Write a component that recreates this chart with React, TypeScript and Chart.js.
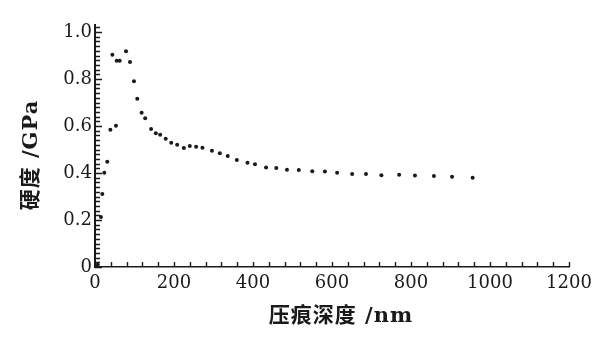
import React, { useEffect, useRef } from "react";
import { Chart, registerables } from "chart.js";

Chart.register(...registerables);

const depthNm = [7, 15, 18.5, 23.5, 31, 39, 44, 53, 55, 62.5, 78.5, 88.6, 98.7, 107, 118, 127, 142, 154, 165, 179, 193, 208, 225, 240, 256, 272, 296, 316, 336, 359, 386, 405, 433, 459, 486, 516, 550, 582, 613, 651, 686, 725, 770, 810, 858, 904, 956];
const hardnessGPa = [0.01, 0.213, 0.311, 0.401, 0.448, 0.584, 0.903, 0.601, 0.878, 0.878, 0.918, 0.872, 0.791, 0.716, 0.657, 0.633, 0.587, 0.569, 0.563, 0.546, 0.529, 0.52, 0.507, 0.515, 0.512, 0.508, 0.495, 0.484, 0.472, 0.455, 0.444, 0.437, 0.424, 0.421, 0.414, 0.413, 0.407, 0.406, 0.401, 0.396, 0.396, 0.39, 0.393, 0.389, 0.387, 0.384, 0.38];

const xTicks = [0, 200, 400, 600, 800, 1000, 1200];
const yTicks = [0, 0.2, 0.4, 0.6, 0.8, 1.0];
const xTitle = "压痕深度 /nm";
const yTitle = "硬度 /GPa";

const INK = "#1a1a1a";

const minorTicks = {
  id: "minorTicks",
  afterDraw(chart: any) {
    const { ctx, chartArea, scales } = chart;
    const xs = scales.x;
    const ys = scales.y;
    ctx.save();
    ctx.strokeStyle = INK;
    ctx.lineWidth = 1.4;
    ctx.beginPath();
    for (let i = 0; i <= 51; i++) {
      const v = i * 0.02;
      const py = Math.round(ys.getPixelForValue(v)) + 0.5;
      const len = i % 10 === 0 ? 7 : 5;
      ctx.moveTo(chartArea.left, py);
      ctx.lineTo(chartArea.left + len, py);
    }
    for (let i = 0; i <= 30; i++) {
      const v = i * 40;
      const px = Math.round(xs.getPixelForValue(v)) + 0.5;
      const len = 5;
      ctx.moveTo(px, chartArea.bottom);
      ctx.lineTo(px, chartArea.bottom - len);
    }
    ctx.stroke();

    // axis titles
    ctx.fillStyle = INK;
    ctx.font = 'bold 21px "DejaVu Serif", "Noto Sans CJK SC", serif';
    try { (ctx as any).letterSpacing = "1px"; } catch (e) {}
    ctx.textAlign = "center";
    ctx.textBaseline = "middle";
    ctx.fillText(xTitle, 341, 317);
    ctx.translate(32, 155);
    ctx.rotate(-Math.PI / 2);
    ctx.fillText(yTitle, 0, 0);
    ctx.restore();
  },
};

export default function App() {
  const ref = useRef<HTMLCanvasElement | null>(null);
  useEffect(() => {
    if (!ref.current) return;
    const tickFont = { family: '"DejaVu Serif", serif', size: 18 };
    const chart = new Chart(ref.current, {
      type: "scatter",
      data: {
        datasets: [
          {
            data: depthNm.map((d, i) => ({ x: d, y: hardnessGPa[i] })),
            pointRadius: 2,
            pointBackgroundColor: INK,
            pointBorderColor: INK,
            pointBorderWidth: 0,
          },
        ],
      },
      options: {
        animation: false,
        responsive: true,
        maintainAspectRatio: false,
        layout: { padding: { top: 25, right: 31, left: 0, bottom: 0 } },
        plugins: { legend: { display: false }, tooltip: { enabled: false } },
        scales: {
          x: {
            type: "linear",
            min: 0,
            max: 1200,
            afterFit: (s: any) => { s.height = 75; },
            afterBuildTicks: (s: any) => { s.ticks = xTicks.map((v) => ({ value: v })); },
            grid: { display: false, drawTicks: false },
            border: { display: true, color: INK, width: 1.6 },
            ticks: {
              font: tickFont,
              color: INK,
              padding: 6,
              maxRotation: 0,
              autoSkip: false,
              callback: (v: any) => String(v),
            },
          },
          y: {
            type: "linear",
            min: 0,
            max: 1.03,
            afterFit: (s: any) => { s.width = 95; },
            afterBuildTicks: (s: any) => { s.ticks = yTicks.map((v) => ({ value: v })); },
            grid: { display: false, drawTicks: false },
            border: { display: true, color: INK, width: 2 },
            ticks: {
              font: tickFont,
              color: INK,
              padding: 3,
              autoSkip: false,
              callback: (v: any) => (Number(v) === 0 ? "0" : Number(v).toFixed(1)),
            },
          },
        },
      },
      plugins: [minorTicks],
    });
    return () => chart.destroy();
  }, []);
  return (
    <div style={{ position: "fixed", left: 0, top: 0, width: 600, height: 342, background: "#fff" }}>
      <canvas ref={ref} />
    </div>
  );
}
